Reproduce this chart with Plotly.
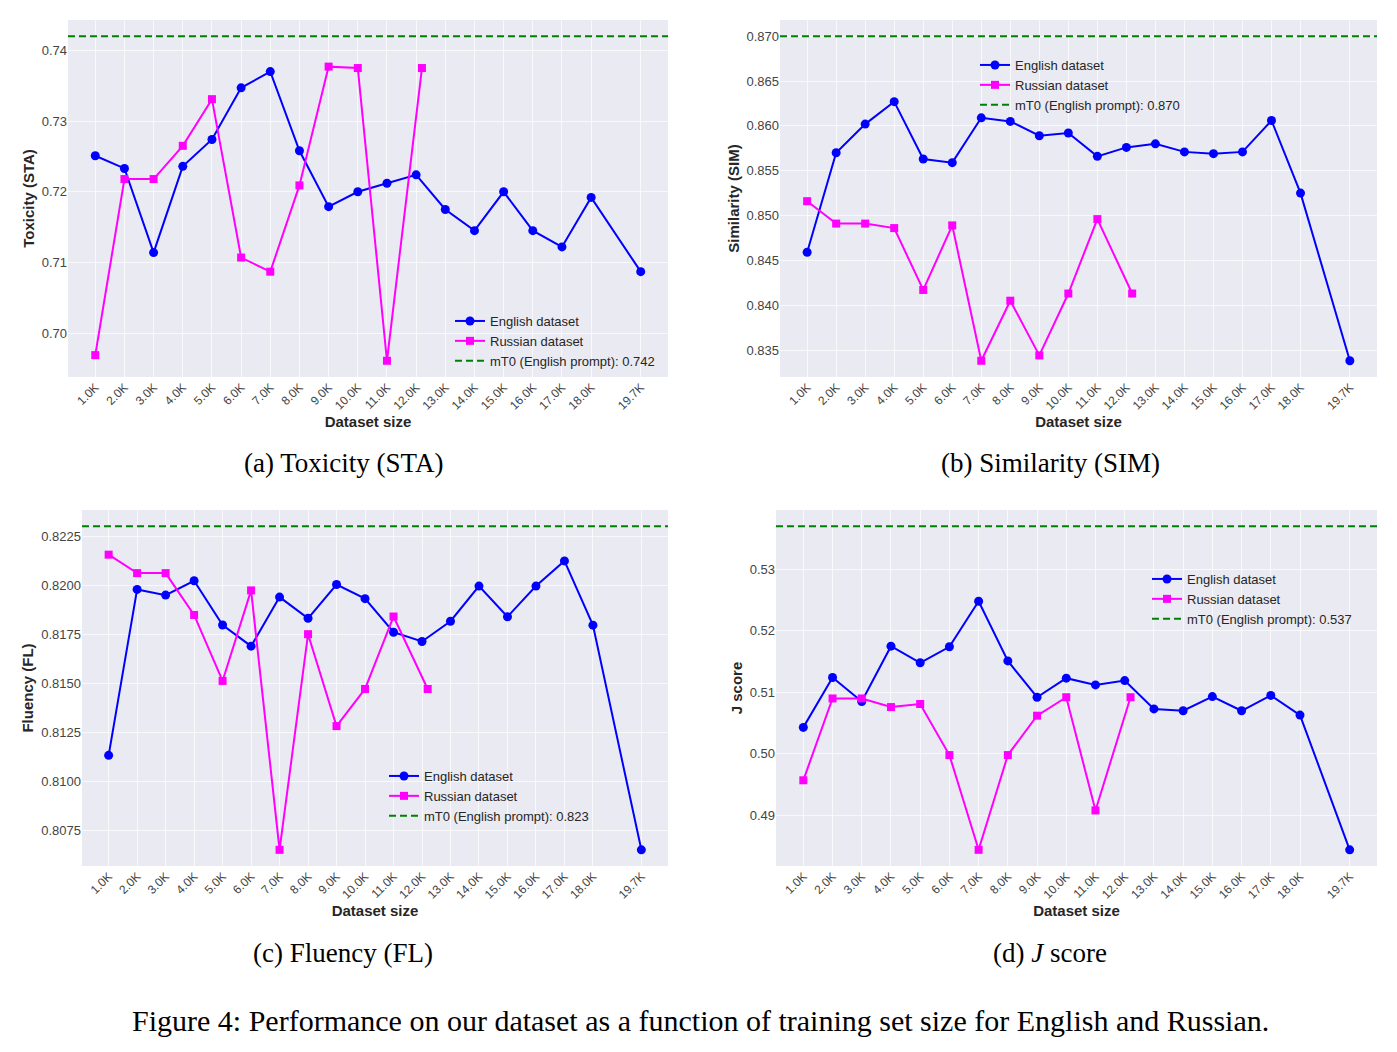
import plotly.graph_objects as go

# ---------------- data ----------------
sizes_en = [1.0, 2.0, 3.0, 4.0, 5.0, 6.0, 7.0, 8.0, 9.0, 10.0, 11.0, 12.0,
            13.0, 14.0, 15.0, 16.0, 17.0, 18.0, 19.7]
sizes_ru = [1.0, 2.0, 3.0, 4.0, 5.0, 6.0, 7.0, 8.0, 9.0, 10.0, 11.0, 12.2]
tick_labels = ["1.0K", "2.0K", "3.0K", "4.0K", "5.0K", "6.0K", "7.0K", "8.0K", "9.0K",
               "10.0K", "11.0K", "12.0K", "13.0K", "14.0K", "15.0K", "16.0K",
               "17.0K", "18.0K", "19.7K"]

sta_en = [0.7251, 0.7233, 0.7114, 0.7236, 0.7274, 0.7347, 0.7370, 0.7258, 0.7179,
          0.7200, 0.7212, 0.7224, 0.7175, 0.7145, 0.7200, 0.7145, 0.7122, 0.7192, 0.7087]
sta_ru = [0.6969, 0.7218, 0.7218, 0.7265, 0.7331, 0.7107, 0.7087, 0.7209, 0.7377,
          0.7375, 0.6961, 0.7375]
sta_base = 0.742

sim_en = [0.8459, 0.8570, 0.8602, 0.8627, 0.8563, 0.8559, 0.8609, 0.8605, 0.8589,
          0.8592, 0.8566, 0.8576, 0.8580, 0.8571, 0.8569, 0.8571, 0.8606, 0.8525, 0.8338]
sim_ru = [0.8516, 0.8491, 0.8491, 0.8486, 0.8417, 0.8489, 0.8338, 0.8405, 0.8344,
          0.8413, 0.8496, 0.8413]
sim_base = 0.870

fl_en = [0.81133, 0.81978, 0.81949, 0.82022, 0.81797, 0.81689, 0.81939, 0.81831, 0.82003,
         0.81931, 0.81760, 0.81713, 0.81816, 0.81995, 0.81839, 0.81995, 0.82123, 0.81796, 0.80652]
fl_ru = [0.82155, 0.82061, 0.82061, 0.81848, 0.81512, 0.81973, 0.80652, 0.81750, 0.81282,
         0.81471, 0.81840, 0.81471]
fl_base = 0.823

j_en = [0.5043, 0.5124, 0.5085, 0.5175, 0.5148, 0.5174, 0.5248, 0.5151, 0.5092,
        0.5123, 0.5112, 0.5119, 0.5073, 0.5070, 0.5093, 0.5070, 0.5095, 0.5063, 0.4844]
j_ru = [0.4957, 0.5090, 0.5090, 0.5076, 0.5081, 0.4998, 0.4844, 0.4998, 0.5062,
        0.5092, 0.4908, 0.5092]
j_base = 0.537

y_titles = ["Toxicity (STA)", "Similarity (SIM)", "Fluency (FL)", "J score"]
captions = ["(a) Toxicity (STA)", "(b) Similarity (SIM)", "(c) Fluency (FL)", "(d) <i>J</i> score"]
figure_caption = "Figure 4: Performance on our dataset as a function of training set size for English and Russian."

# ---------------- layout helpers ----------------
W, H = 1397, 1052
BG = "#EAEAF2"
TXT = "#262626"
BLUE = "#0000FF"
MAG = "#FF00FF"
GREEN = "#008000"
SANS = "Liberation Sans, Arial, sans-serif"
SERIF = "Liberation Serif, Times New Roman, serif"

# plot-area boxes in pixels: (left, right, top, bottom)
boxes = [(68, 668, 20, 377), (780, 1377, 20, 377), (82, 668, 510, 866), (776, 1377, 510, 866)]
# legend anchors in pixels (left, top)
leg_pos = [(450, 306), (975, 50), (384, 761), (1147, 564)]
y_dticks = [0.01, 0.005, 0.0025, 0.01]
y_formats = [".2f", ".3f", ".4f", ".2f"]
caption_xy = [(343, 463), (1050, 463), (343, 953), (1050, 953)]

panels = [(sta_en, sta_ru, sta_base), (sim_en, sim_ru, sim_base),
          (fl_en, fl_ru, fl_base), (j_en, j_ru, j_base)]

xmin, xmax = min(sizes_en), max(sizes_en)
xpad = 0.05 * (xmax - xmin)
xr = [xmin - xpad, xmax + xpad]

fig = go.Figure()
layout = dict(width=W, height=H, margin=dict(l=0, r=0, t=0, b=0),
              paper_bgcolor="white", plot_bgcolor=BG, showlegend=True,
              font=dict(family=SANS, color=TXT))
annotations = []

for i, ((en, ru, base), box, lp) in enumerate(zip(panels, boxes, leg_pos)):
    n = i + 1
    xa = "x" if n == 1 else f"x{n}"
    ya = "y" if n == 1 else f"y{n}"
    leg = "legend" if n == 1 else f"legend{n}"
    base_label = f"mT0 (English prompt): {base:.3f}"

    fig.add_trace(go.Scatter(x=sizes_en, y=en, mode="lines+markers", name="English dataset",
                             line=dict(color=BLUE, width=2),
                             marker=dict(symbol="circle", size=9, color=BLUE),
                             xaxis=xa, yaxis=ya, legend=leg))
    fig.add_trace(go.Scatter(x=sizes_ru, y=ru, mode="lines+markers", name="Russian dataset",
                             line=dict(color=MAG, width=2),
                             marker=dict(symbol="square", size=8, color=MAG),
                             xaxis=xa, yaxis=ya, legend=leg))
    fig.add_trace(go.Scatter(x=xr, y=[base, base], mode="lines", name=base_label,
                             line=dict(color=GREEN, width=2, dash="7px,4px"),
                             xaxis=xa, yaxis=ya, legend=leg))

    vals = en + ru + [base]
    lo, hi = min(vals), max(vals)
    pad = 0.05 * (hi - lo)
    yr = [lo - pad, hi + pad]

    l, r, t, b = box
    xkey = "xaxis" if n == 1 else f"xaxis{n}"
    ykey = "yaxis" if n == 1 else f"yaxis{n}"
    layout[xkey] = dict(domain=[l / W, r / W], anchor=ya, range=xr,
                        tickmode="array", tickvals=sizes_en, ticktext=tick_labels,
                        tickangle=-45, tickfont=dict(size=12, color="#444444"),
                        showgrid=True, gridcolor="rgba(255,255,255,0.7)", gridwidth=1,
                        zeroline=False, showline=False, ticks="",
                        title=dict(text="<b>Dataset size</b>", font=dict(size=15, color=TXT),
                                   standoff=1))
    layout[ykey] = dict(domain=[1 - b / H, 1 - t / H], anchor=xa, range=yr,
                        dtick=y_dticks[i], tick0=0, tickformat=y_formats[i],
                        tickfont=dict(size=13, color="#444444"),
                        showgrid=True, gridcolor="rgba(255,255,255,0.7)", gridwidth=1,
                        zeroline=False, showline=False, ticks="",
                        title=dict(text=f"<b>{y_titles[i]}</b>", font=dict(size=15, color=TXT),
                                   standoff=3))
    layout[leg] = dict(x=lp[0] / W, y=1 - lp[1] / H, xanchor="left", yanchor="top",
                       bgcolor="rgba(0,0,0,0)", borderwidth=0,
                       font=dict(size=13, color=TXT), tracegroupgap=0)

    cx, cy = caption_xy[i]
    annotations.append(dict(text=captions[i], x=cx / W, y=1 - cy / H,
                            xref="paper", yref="paper", showarrow=False,
                            xanchor="center", yanchor="middle",
                            font=dict(family=SERIF, size=27, color="black")))

annotations.append(dict(text=figure_caption, x=700 / W, y=1 - 1020 / H,
                        xref="paper", yref="paper", showarrow=False,
                        xanchor="center", yanchor="middle",
                        font=dict(family=SERIF, size=30, color="black")))
layout["annotations"] = annotations
fig.update_layout(**layout)

fig.write_html("out.html")
